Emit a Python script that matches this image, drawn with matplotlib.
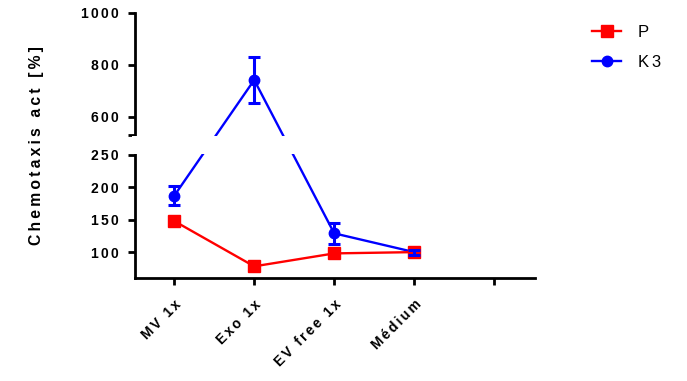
import numpy as np
import matplotlib
matplotlib.use('Agg')
import matplotlib.pyplot as plt
from matplotlib.patches import Rectangle
import matplotlib.transforms as mtransforms

plt.rcParams['font.family'] = ['Liberation Sans', 'DejaVu Sans']

categories = ['MV 1x', 'Exo 1x', 'EV free 1x', 'Médium']
p_vals = [148, 78, 98, 100]
k3_vals = [187, 742, 129, 100]
k3_err = [15, 87, 16, 4]
ylabel = 'Chemotaxis act [%]'
ytick_vals = [100, 150, 200, 250, 530, 600, 800, 1000]
ytick_labels = ['100', '150', '200', '250', '', '600', '800', '1000']

RED = '#ff0000'
BLUE = '#0000ff'

# broken axis: 60-250 lower part, 530-1000 upper part, small gap in between
LO, BRK1, BRK2, HI = 60, 250, 530, 1000
A = 123 / (BRK1 - LO)
G = 20 / (BRK2 - BRK1)
B = 122 / (HI - BRK2)


def fwd(y):
    y = np.asarray(y, dtype=float)
    return np.where(y <= BRK1, (y - LO) * A,
                    np.where(y >= BRK2, 143 + (y - BRK2) * B, 123 + (y - BRK1) * G))


def inv(v):
    v = np.asarray(v, dtype=float)
    return np.where(v <= 123, LO + v / A,
                    np.where(v >= 143, BRK2 + (v - 143) / B, BRK1 + (v - 123) / G))


def spaced(s, sp='\u2006'):
    # Prism style letter spacing
    return sp.join(s)


fig = plt.figure(figsize=(6.87, 3.81), dpi=100)
ax = fig.add_axes([135 / 687, 1 - 278 / 381, 400 / 687, 265 / 381])
ax.set_yscale('function', functions=(fwd, inv))
ax.set_ylim(LO, HI)
ax.set_xlim(-0.49, 4.51)

x = np.arange(len(categories))

ax.plot(x, k3_vals, color=BLUE, lw=1.7, marker='o', ms=7.5, zorder=3, label=spaced('K3'))
ax.plot(x, p_vals, color=RED, lw=1.7, marker='s', ms=8, zorder=4, label='P')
ax.errorbar(x, k3_vals, yerr=k3_err, fmt='none', ecolor=BLUE, elinewidth=2.2,
            capsize=4, capthick=2.2, zorder=5)

for s in ['top', 'right']:
    ax.spines[s].set_visible(False)
for s in ['left', 'bottom']:
    ax.spines[s].set_linewidth(2)

ax.set_yticks(ytick_vals)
ax.set_yticklabels([spaced(t) for t in ytick_labels], fontweight='bold', fontsize=10)
ax.yaxis.set_minor_locator(matplotlib.ticker.NullLocator())
ax.set_xticks(np.arange(5))
ax.set_xticklabels([spaced(c) for c in categories] + [''], fontweight='bold', fontsize=10,
                   rotation=45, ha='right', va='top', rotation_mode='anchor')
ax.tick_params(axis='both', direction='out', length=5, width=2)
ax.tick_params(axis='y', pad=7)
ax.tick_params(axis='x', pad=9)

ax.set_ylabel(spaced(ylabel, '\u2009'), fontweight='bold', fontsize=11.3, labelpad=26)

# white gap hiding the break
trans = mtransforms.blended_transform_factory(ax.transAxes, ax.transData)
ax.add_patch(Rectangle((-0.008, 264), 1.01, 252, transform=trans, facecolor='white',
                       edgecolor='none', zorder=6, clip_on=False))

h, l = ax.get_legend_handles_labels()
fig.legend(h[::-1], l[::-1], loc='upper left', bbox_to_anchor=(592 / 687, 1 - 25 / 381),
           frameon=False, fontsize=12, handlelength=1.75, handletextpad=1.0,
           labelspacing=0.9, borderpad=0, borderaxespad=0)

fig.savefig('out.png', dpi=100)
